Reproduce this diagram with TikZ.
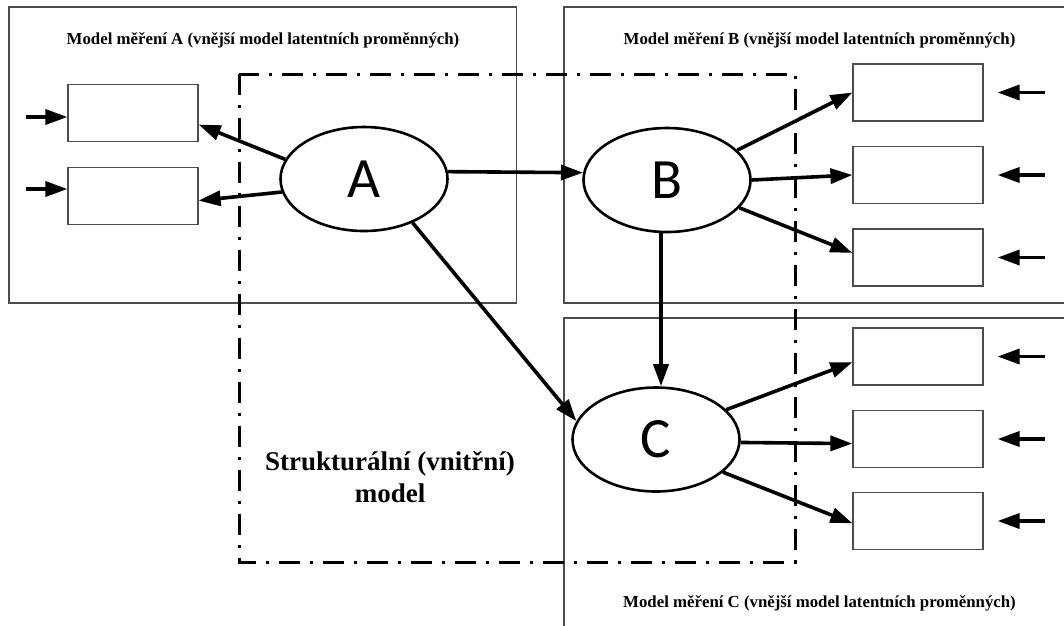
\documentclass[tikz,border=0pt]{standalone}
\usepackage{fontspec}
\setmainfont{Liberation Serif}
\newfontfamily\letterfont{Carlito}
\usetikzlibrary{shapes.geometric,arrows.meta}

\begin{document}
\begin{tikzpicture}[x=1pt,y=-1pt,
  frame/.style={draw=black!70, line width=1.2pt},
  indicator/.style={draw=black!70, line width=1.2pt, rectangle, minimum width=130pt,
    minimum height=57pt, inner sep=0pt},
  latent/.style={draw, fill=white, ellipse, line width=2.6pt, minimum width=167pt,
    minimum height=104pt, inner sep=0pt, font=\letterfont\fontsize{57}{60}\selectfont},
  link/.style={line width=3.6pt, -{Triangle[length=22pt,width=15pt]}},
  title/.style={font=\bfseries\fontsize{16.8}{20}\selectfont},
  structbox/.style={line width=3pt, dash pattern=on 21pt off 10pt on 3pt off 10pt},
]
\useasboundingbox (0,0) rectangle (1064,625);
\clip (0,0) rectangle (1064,625);

% measurement model frames
\draw[frame] (9,7) rectangle (516.5,303);
\draw[frame] (564,7) rectangle (1075,303);
\draw[frame] (564,318) rectangle (1075,640);

% structural model boundary
\draw[structbox] (239,74) rectangle (795,562);

% frame titles
\node[title] (tA) at (263,40) {Model měření A (vnější model latentních proměnných)};
\node[title] (tB) at (819.5,40) {Model měření B (vnější model latentních proměnných)};
\node[title] (tC) at (819.5,603) {Model měření C (vnější model latentních proměnných)};
\node[font=\bfseries\fontsize{27}{32}\selectfont, align=center] (sl) at (390,477)
  {Strukturální (vnitřní)\\model};

% latent variables
\node[latent] (A) at (364,179) {A};
\node[latent] (B) at (667,180) {B};
\node[latent] (C) at (656,439.5) {C};

% indicators
\node[indicator] (ra1) at (133,113) {};
\node[indicator] (ra2) at (133,196) {};
\node[indicator] (rb1) at (918,92.5) {};
\node[indicator] (rb2) at (918,175) {};
\node[indicator] (rb3) at (918,257.5) {};
\node[indicator] (rc1) at (918,356.5) {};
\node[indicator] (rc2) at (918,439) {};
\node[indicator] (rc3) at (918,521) {};

% error terms
\draw[link] ([xshift=-41pt,yshift=-4pt]ra1.west) -- ([yshift=-4pt]ra1.west);
\draw[link] ([xshift=-41pt,yshift=7pt]ra2.west) -- ([yshift=7pt]ra2.west);
\foreach \r in {rb1,rb2,rb3,rc1,rc2,rc3}
  \draw[link] ([xshift=61pt]\r.east) -- ([xshift=14pt]\r.east);

% measurement paths
\draw[link] (A.166) -- (ra1.-10);
\draw[link] (A.189) -- (ra2.-4);
\draw[link] (B.23) -- (rb1.west);
\draw[link] (B.0) -- (rb2.west);
\draw[link] (B.-21) -- (rb3.176);
\draw[link] (C.23) -- (rc1.185);
\draw[link] (C.-2) -- (rc2.184);
\draw[link] (C.-26) -- (rc3.182);

% structural paths
\draw[link] (A.5) -- (B.175);
\draw[link] (A.-42) -- (C.167);
\draw[link] ([xshift=-6pt]B.south) -- ([xshift=-6pt]B.south |- C.north);
\end{tikzpicture}
\end{document}
